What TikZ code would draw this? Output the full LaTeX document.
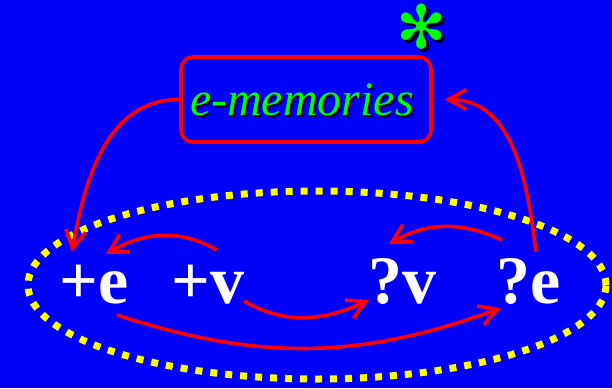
\documentclass[tikz,border=0pt]{standalone}
\usepackage{fontspec}
\setmainfont{Liberation Serif}
\newfontfamily\symfont{DejaVu Sans}
\usetikzlibrary{arrows.meta,positioning}
\definecolor{slideblue}{RGB}{0,0,250}
\definecolor{arrred}{RGB}{255,0,0}
\definecolor{memgreen}{RGB}{0,255,0}
\definecolor{dotyellow}{RGB}{255,255,0}

\begin{document}
\begin{tikzpicture}[x=1pt,y=1pt,>={Straight Barb[length=18pt,width=20pt]},
  item/.style={text=white,font=\fontsize{68}{68}\selectfont\bfseries,inner sep=0pt,anchor=base},
  memtext/.style={font=\fontsize{48}{48}\selectfont\itshape,inner sep=0pt,anchor=base},
  startext/.style={font=\symfont\fontsize{60}{60}\selectfont,inner sep=0pt},
  link/.style={->,arrred,line width=3.6pt}]
  \fill[slideblue] (0,0) rectangle (612,-388);
  \useasboundingbox (0,0) rectangle (612,-388);
  % the dotted ring round the four items
  \draw[dotyellow,line width=7pt,dash pattern=on 7pt off 8pt] (317,-285) ellipse [x radius=289,y radius=94];
  % items
  \node[item] (pe) at (94,-303) {+e};
  \node[item] (pv) at (208,-303) {+v};
  \node[item] (qv) at (402,-303) {?v};
  \node[item] (qe) at (529,-303) {?e};
  % memory box with shadowed text
  \node[draw=arrred,line width=3.6pt,rounded corners=12pt,minimum width=250pt,minimum height=85pt] (mem) at (306,-99.5) {};
  \node[memtext,text=black] at (304,-117.5) {e-memories};
  \node[memtext,text=memgreen] (memlabel) at (302,-115) {e-memories};
  \node[startext,text=black] at (425,-30) {✻};
  \node[startext,text=memgreen] (star) at (422,-27) {✻};
  % arrows
  \draw[link] (mem.west) to[out=180,in=80] ([shift={(-22,51)}]pe.base);
  \draw[link] ([shift={(9,53)}]pv.base) to[out=150,in=30] ([shift={(12,49)}]pe.base);
  \draw[link] ([shift={(36,2)}]pv.base) to[out=-30,in=205] ([shift={(-33,3)}]qv.base);
  \draw[link] ([shift={(23,-12)}]pe.base) to[out=-18,in=200] ([shift={(-28,-5)}]qe.base);
  \draw[link] ([shift={(-27,63)}]qe.base) to[out=155,in=30] ([shift={(-13,59)}]qv.base);
  \draw[link] ([shift={(7,51)}]qe.base) to[out=97,in=0] ([shift={(12,0)}]mem.east);
\end{tikzpicture}
\end{document}
